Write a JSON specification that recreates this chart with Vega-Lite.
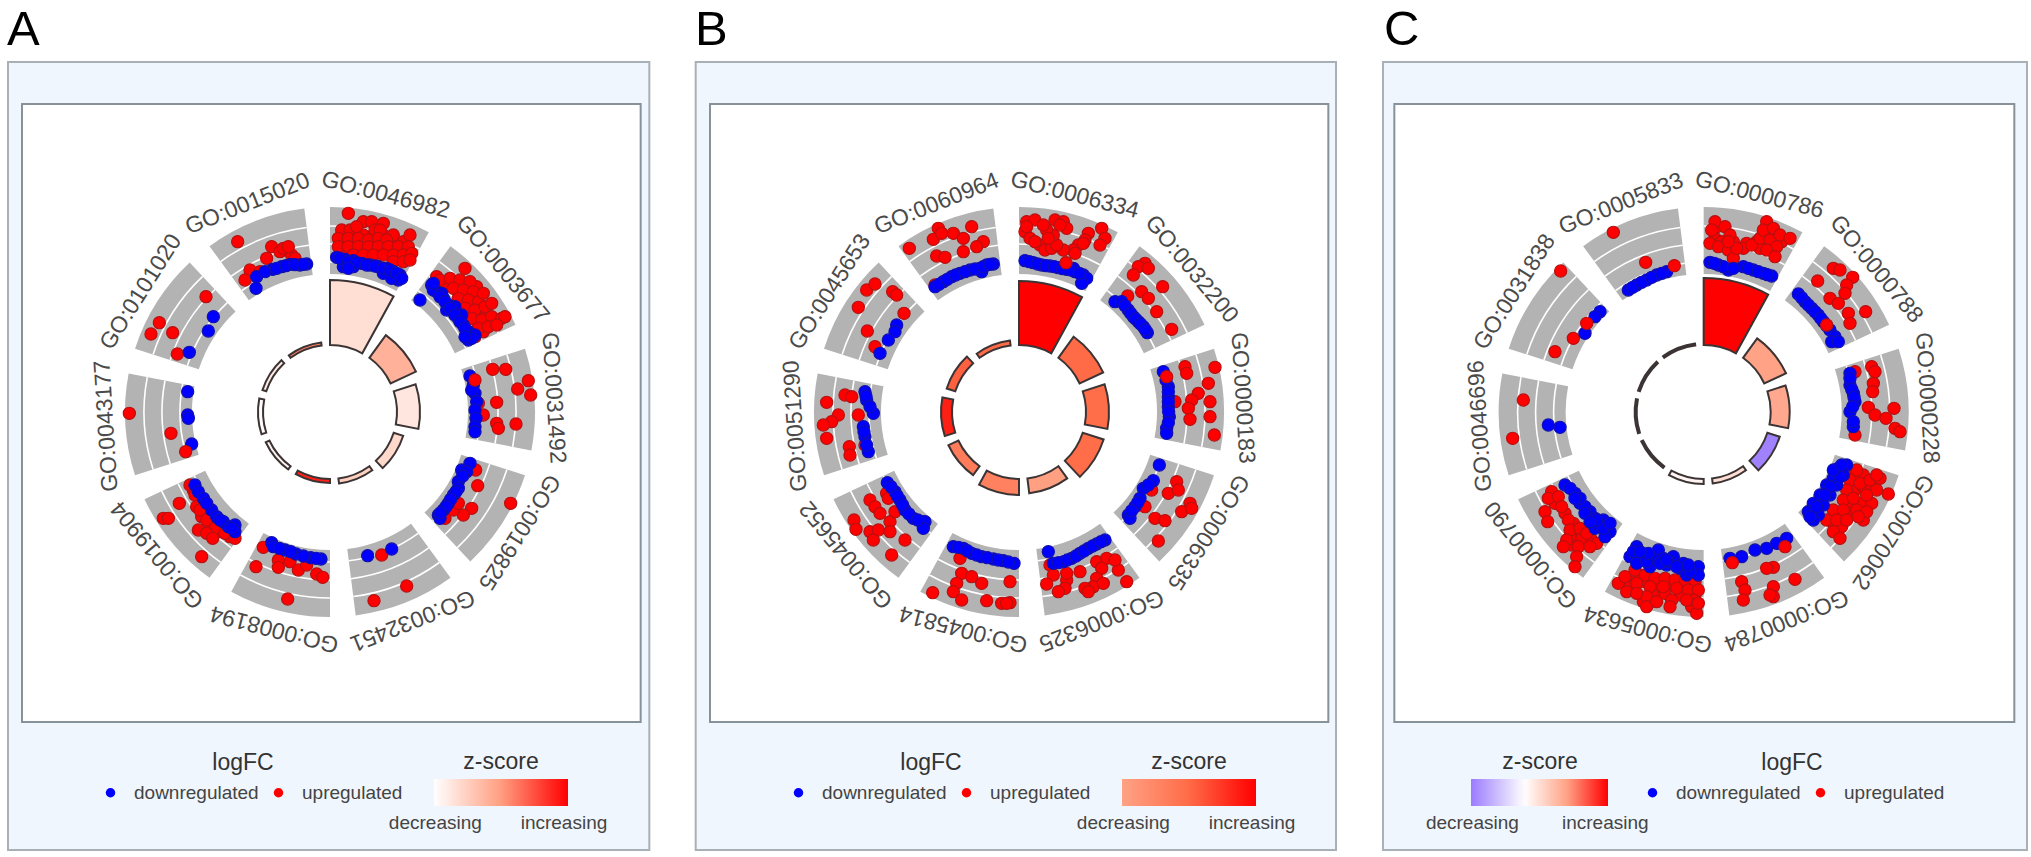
{"$schema":"https://vega.github.io/schema/vega-lite/v6.json","background":"white","padding":0,"spacing":0,"resolve":{"scale":{"color":"independent","fill":"independent","stroke":"independent"},"legend":{"color":"independent","fill":"independent","stroke":"independent"}},"config":{"font":"Liberation Sans","view":{"stroke":null},"legend":{"labelFontSize":19,"labelColor":"#444444","titleFontSize":23,"titleFontWeight":"normal","titleColor":"#333333","padding":0,"symbolType":"circle"}},
"datasets":{
"lines":[{"a0":0,"a1":28.8},{"a0":36,"a1":64.8},{"a0":72,"a1":100.8},{"a0":108,"a1":136.8},{"a0":144,"a1":172.8},{"a0":180,"a1":208.8},{"a0":216,"a1":244.8},{"a0":252,"a1":280.8},{"a0":288,"a1":316.8},{"a0":324,"a1":352.8}],
"aSec":[{"go":"GO:0046982","a0":0,"a1":28.8,"mid":14.4,"bar":132,"z":0.17},{"go":"GO:0003677","a0":36,"a1":64.8,"mid":50.4,"bar":95,"z":0.4},{"go":"GO:0031492","a0":72,"a1":100.8,"mid":86.4,"bar":90,"z":0.13},{"go":"GO:0019825","a0":108,"a1":136.8,"mid":122.4,"bar":77,"z":0.2},{"go":"GO:0032451","a0":144,"a1":172.8,"mid":158.4,"bar":72,"z":0.25},{"go":"GO:0008194","a0":180,"a1":208.8,"mid":194.4,"bar":71,"z":0.9},{"go":"GO:0019904","a0":216,"a1":244.8,"mid":230.4,"bar":71,"z":0.05},{"go":"GO:0043177","a0":252,"a1":280.8,"mid":266.4,"bar":72,"z":0.02},{"go":"GO:0101020","a0":288,"a1":316.8,"mid":302.4,"bar":71,"z":0.1},{"go":"GO:0015020","a0":324,"a1":352.8,"mid":338.4,"bar":70,"z":0.6}],
"bSec":[{"go":"GO:0006334","a0":0,"a1":28.8,"mid":14.4,"bar":131,"z":1},{"go":"GO:0032200","a0":36,"a1":64.8,"mid":50.4,"bar":93,"z":0.5},{"go":"GO:0000183","a0":72,"a1":100.8,"mid":86.4,"bar":90,"z":0.48},{"go":"GO:0006335","a0":108,"a1":136.8,"mid":122.4,"bar":89,"z":0.48},{"go":"GO:0006325","a0":144,"a1":172.8,"mid":158.4,"bar":82,"z":0.02},{"go":"GO:0045814","a0":180,"a1":208.8,"mid":194.4,"bar":83,"z":0.3},{"go":"GO:0045652","a0":216,"a1":244.8,"mid":230.4,"bar":78,"z":0.35},{"go":"GO:0051290","a0":252,"a1":280.8,"mid":266.4,"bar":78,"z":0.85},{"go":"GO:0045653","a0":288,"a1":316.8,"mid":302.4,"bar":76,"z":0.55},{"go":"GO:0060964","a0":324,"a1":352.8,"mid":338.4,"bar":72,"z":0.5}],
"cSec":[{"go":"GO:0000786","a0":0,"a1":28.8,"mid":14.4,"bar":134,"z":1},{"go":"GO:0000788","a0":36,"a1":64.8,"mid":50.4,"bar":91,"z":0.7},{"go":"GO:0000228","a0":72,"a1":100.8,"mid":86.4,"bar":86,"z":0.68},{"go":"GO:0070062","a0":108,"a1":136.8,"mid":122.4,"bar":80,"z":0.02},{"go":"GO:0000784","a0":144,"a1":172.8,"mid":158.4,"bar":72,"z":0.5},{"go":"GO:0005634","a0":180,"a1":208.8,"mid":194.4,"bar":72,"z":0.42},{"go":"GO:0000790","a0":216,"a1":244.8,"mid":230.4,"bar":69,"z":0.39},{"go":"GO:0046696","a0":252,"a1":280.8,"mid":266.4,"bar":69,"z":0.39},{"go":"GO:0031838","a0":288,"a1":316.8,"mid":302.4,"bar":69,"z":0.39},{"go":"GO:0005833","a0":324,"a1":352.8,"mid":338.4,"bar":69,"z":0.39}],
"aPts":[{"x":730,"y":195,"g":"up"},{"x":760,"y":195,"g":"up"},{"x":790,"y":195,"g":"up"},{"x":820,"y":195,"g":"up"},{"x":850,"y":195,"g":"up"},{"x":730,"y":215,"g":"up"},{"x":760,"y":215,"g":"up"},{"x":790,"y":215,"g":"up"},{"x":820,"y":215,"g":"up"},{"x":850,"y":215,"g":"up"},{"x":880,"y":215,"g":"up"},{"x":910,"y":215,"g":"up"},{"x":775,"y":245,"g":"up"},{"x":805,"y":245,"g":"up"},{"x":835,"y":245,"g":"up"},{"x":865,"y":245,"g":"up"},{"x":895,"y":245,"g":"up"},{"x":925,"y":245,"g":"up"},{"x":735,"y":245,"g":"up"},{"x":1035,"y":340,"g":"up"},{"x":1065,"y":340,"g":"up"},{"x":1095,"y":345,"g":"up"},{"x":1080,"y":370,"g":"up"},{"x":1105,"y":365,"g":"up"},{"x":1135,"y":380,"g":"up"},{"x":1090,"y":400,"g":"up"},{"x":1120,"y":405,"g":"up"},{"x":1145,"y":430,"g":"up"},{"x":1110,"y":430,"g":"up"},{"x":1135,"y":460,"g":"up"},{"x":1160,"y":455,"g":"up"},{"x":1150,"y":485,"g":"up"},{"x":1010,"y":320,"g":"up"},{"x":1130,"y":350,"g":"up"},{"x":330,"y":1065,"g":"up"},{"x":360,"y":1085,"g":"up"},{"x":390,"y":1100,"g":"up"},{"x":305,"y":1040,"g":"up"},{"x":280,"y":960,"g":"up"},
{"x":745,"y":130,"g":"up"},{"x":790,"y":155,"g":"up"},{"x":815,"y":155,"g":"up"},{"x":850,"y":160,"g":"up"},{"x":880,"y":195,"g":"up"},{"x":930,"y":195,"g":"up"},{"x":725,"y":180,"g":"up"},{"x":750,"y":180,"g":"up"},{"x":770,"y":170,"g":"up"},{"x":825,"y":180,"g":"up"},{"x":840,"y":180,"g":"up"},{"x":715,"y":205,"g":"up"},{"x":745,"y":205,"g":"up"},{"x":775,"y":205,"g":"up"},{"x":805,"y":210,"g":"up"},{"x":835,"y":205,"g":"up"},{"x":860,"y":210,"g":"up"},{"x":715,"y":230,"g":"up"},{"x":745,"y":230,"g":"up"},{"x":775,"y":230,"g":"up"},{"x":805,"y":230,"g":"up"},{"x":835,"y":230,"g":"up"},{"x":865,"y":230,"g":"up"},{"x":895,"y":230,"g":"up"},{"x":925,"y":230,"g":"up"},{"x":760,"y":255,"g":"up"},{"x":790,"y":255,"g":"up"},{"x":820,"y":255,"g":"up"},{"x":850,"y":255,"g":"up"},{"x":880,"y":255,"g":"up"},{"x":910,"y":255,"g":"up"},{"x":935,"y":250,"g":"up"},{"x":880,"y":275,"g":"up"},{"x":910,"y":275,"g":"up"},{"x":930,"y":270,"g":"up"},{"x":710,"y":262,"g":"down"},{"x":735,"y":268,"g":"down"},{"x":760,"y":272,"g":"down"},{"x":785,"y":280,"g":"down"},{"x":810,"y":285,"g":"down"},{"x":835,"y":290,"g":"down"},{"x":860,"y":295,"g":"down"},{"x":880,"y":305,"g":"down"},{"x":900,"y":315,"g":"down"},{"x":895,"y":330,"g":"down"},{"x":730,"y":290,"g":"down"},{"x":760,"y":290,"g":"down"},{"x":850,"y":310,"g":"down"},{"x":875,"y":325,"g":"down"},
{"x":1020,"y":330,"g":"up"},{"x":1050,"y":325,"g":"up"},{"x":1080,"y":330,"g":"up"},{"x":1095,"y":295,"g":"up"},{"x":1110,"y":335,"g":"up"},{"x":1060,"y":355,"g":"up"},{"x":1090,"y":360,"g":"up"},{"x":1120,"y":365,"g":"up"},{"x":1075,"y":385,"g":"up"},{"x":1105,"y":390,"g":"up"},{"x":1135,"y":395,"g":"up"},{"x":1150,"y":370,"g":"up"},{"x":1095,"y":415,"g":"up"},{"x":1125,"y":420,"g":"up"},{"x":1155,"y":410,"g":"up"},{"x":1175,"y":400,"g":"up"},{"x":1115,"y":445,"g":"up"},{"x":1145,"y":450,"g":"up"},{"x":1175,"y":440,"g":"up"},{"x":1205,"y":445,"g":"up"},{"x":1215,"y":440,"g":"up"},{"x":1135,"y":475,"g":"up"},{"x":1165,"y":470,"g":"up"},{"x":1190,"y":465,"g":"up"},{"x":1125,"y":500,"g":"up"},{"x":960,"y":390,"g":"down"},{"x":995,"y":345,"g":"down"},{"x":1010,"y":365,"g":"down"},{"x":1030,"y":385,"g":"down"},{"x":1045,"y":405,"g":"down"},{"x":1060,"y":425,"g":"down"},{"x":1075,"y":445,"g":"down"},{"x":1090,"y":465,"g":"down"},{"x":1105,"y":485,"g":"down"},{"x":1105,"y":510,"g":"down"},{"x":1125,"y":495,"g":"down"},{"x":1000,"y":360,"g":"down"},{"x":1025,"y":370,"g":"down"},{"x":1040,"y":420,"g":"down"},{"x":1065,"y":410,"g":"down"},{"x":1085,"y":435,"g":"down"},
{"x":1178,"y":598,"g":"up"},{"x":1217,"y":598,"g":"up"},{"x":1285,"y":632,"g":"up"},{"x":1253,"y":657,"g":"up"},{"x":1292,"y":675,"g":"up"},{"x":1190,"y":697,"g":"up"},{"x":1248,"y":762,"g":"up"},{"x":1190,"y":760,"g":"up"},{"x":1195,"y":775,"g":"up"},{"x":1150,"y":735,"g":"up"},{"x":1135,"y":700,"g":"up"},{"x":1110,"y":618,"g":"down"},{"x":1120,"y":645,"g":"down"},{"x":1125,"y":670,"g":"down"},{"x":1130,"y":695,"g":"down"},{"x":1125,"y":720,"g":"down"},{"x":1128,"y":745,"g":"down"},{"x":1125,"y":770,"g":"down"},{"x":1125,"y":785,"g":"down"},{"x":1115,"y":660,"g":"down"},{"x":1125,"y":630,"g":"up"},
{"x":1232,"y":1000,"g":"up"},{"x":1133,"y":947,"g":"up"},{"x":1127,"y":900,"g":"up"},{"x":1115,"y":1015,"g":"up"},{"x":1090,"y":1035,"g":"up"},{"x":1035,"y":1045,"g":"up"},{"x":1060,"y":1020,"g":"up"},{"x":1075,"y":1000,"g":"up"},{"x":1110,"y":880,"g":"down"},{"x":1085,"y":900,"g":"down"},{"x":1100,"y":905,"g":"down"},{"x":1075,"y":935,"g":"down"},{"x":1075,"y":955,"g":"down"},{"x":1060,"y":975,"g":"down"},{"x":1045,"y":1000,"g":"down"},{"x":1030,"y":1020,"g":"down"},{"x":1015,"y":1035,"g":"down"},{"x":1020,"y":1045,"g":"down"},
{"x":845,"y":1155,"g":"up"},{"x":920,"y":1248,"g":"up"},{"x":822,"y":1292,"g":"up"},{"x":803,"y":1157,"g":"down"},{"x":875,"y":1137,"g":"down"},
{"x":490,"y":1132,"g":"up"},{"x":468,"y":1190,"g":"up"},{"x":535,"y":1170,"g":"up"},{"x":535,"y":1192,"g":"up"},{"x":570,"y":1175,"g":"up"},{"x":595,"y":1200,"g":"up"},{"x":620,"y":1185,"g":"up"},{"x":650,"y":1212,"g":"up"},{"x":668,"y":1222,"g":"up"},{"x":563,"y":1287,"g":"up"},{"x":515,"y":1118,"g":"down"},{"x":520,"y":1130,"g":"down"},{"x":555,"y":1140,"g":"down"},{"x":588,"y":1152,"g":"down"},{"x":632,"y":1163,"g":"down"},{"x":663,"y":1167,"g":"down"},
{"x":270,"y":945,"g":"up"},{"x":285,"y":975,"g":"up"},{"x":290,"y":1010,"g":"up"},{"x":300,"y":1020,"g":"up"},{"x":320,"y":1050,"g":"up"},{"x":345,"y":1075,"g":"up"},{"x":375,"y":1090,"g":"up"},{"x":405,"y":1105,"g":"up"},{"x":238,"y":1000,"g":"up"},{"x":190,"y":1045,"g":"up"},{"x":205,"y":1045,"g":"up"},{"x":295,"y":1080,"g":"up"},{"x":320,"y":1090,"g":"up"},{"x":338,"y":1105,"g":"up"},{"x":305,"y":1160,"g":"up"},{"x":285,"y":945,"g":"down"},{"x":295,"y":965,"g":"down"},{"x":310,"y":985,"g":"down"},{"x":335,"y":1020,"g":"down"},{"x":350,"y":1040,"g":"down"},{"x":370,"y":1055,"g":"down"},{"x":385,"y":1070,"g":"down"},{"x":405,"y":1065,"g":"down"},{"x":405,"y":1085,"g":"down"},
{"x":88,"y":730,"g":"up"},{"x":213,"y":790,"g":"up"},{"x":263,"y":665,"g":"down"},{"x":263,"y":735,"g":"down"},{"x":265,"y":745,"g":"down"},{"x":275,"y":822,"g":"down"},{"x":257,"y":845,"g":"up"},
{"x":318,"y":380,"g":"up"},{"x":178,"y":458,"g":"up"},{"x":153,"y":492,"g":"up"},{"x":218,"y":488,"g":"up"},{"x":232,"y":552,"g":"up"},{"x":340,"y":440,"g":"down"},{"x":325,"y":483,"g":"down"},{"x":268,"y":547,"g":"down"},
{"x":413,"y":215,"g":"up"},{"x":515,"y":230,"g":"up"},{"x":500,"y":265,"g":"up"},{"x":560,"y":240,"g":"up"},{"x":575,"y":255,"g":"up"},{"x":540,"y":245,"g":"up"},{"x":450,"y":300,"g":"up"},{"x":480,"y":305,"g":"up"},{"x":435,"y":330,"g":"up"},{"x":550,"y":235,"g":"up"},{"x":565,"y":230,"g":"up"},{"x":585,"y":265,"g":"up"},{"x":620,"y":282,"g":"down"},{"x":600,"y":285,"g":"down"},{"x":572,"y":283,"g":"down"},{"x":545,"y":290,"g":"down"},{"x":518,"y":298,"g":"down"},{"x":470,"y":320,"g":"down"},{"x":468,"y":355,"g":"down"},
{"x":720,"y":265,"g":"down"},{"x":745,"y":275,"g":"down"},{"x":770,"y":278,"g":"down"},{"x":800,"y":285,"g":"down"},{"x":825,"y":288,"g":"down"},{"x":850,"y":295,"g":"down"},{"x":870,"y":300,"g":"down"},{"x":890,"y":310,"g":"down"},{"x":905,"y":325,"g":"down"},{"x":745,"y":295,"g":"down"},{"x":1000,"y":340,"g":"down"},{"x":1020,"y":380,"g":"down"},{"x":1035,"y":395,"g":"down"},{"x":1050,"y":415,"g":"down"},{"x":1065,"y":435,"g":"down"},{"x":1080,"y":455,"g":"down"},{"x":1095,"y":475,"g":"down"},{"x":1115,"y":505,"g":"down"},{"x":1095,"y":500,"g":"down"},{"x":320,"y":1000,"g":"down"},{"x":360,"y":1050,"g":"down"},{"x":395,"y":1075,"g":"down"},{"x":495,"y":305,"g":"down"},{"x":530,"y":295,"g":"down"},{"x":558,"y":287,"g":"down"},{"x":585,"y":284,"g":"down"},{"x":610,"y":283,"g":"down"},{"x":538,"y":1135,"g":"down"},{"x":572,"y":1145,"g":"down"},{"x":610,"y":1158,"g":"down"},{"x":648,"y":1165,"g":"down"},{"x":1088,"y":918,"g":"down"},{"x":1068,"y":965,"g":"down"},{"x":1052,"y":988,"g":"down"},{"x":1038,"y":1010,"g":"down"},{"x":1022,"y":1028,"g":"down"}],
"bPts":[{"x":710,"y":155,"g":"up"},{"x":735,"y":150,"g":"up"},{"x":705,"y":185,"g":"up"},{"x":720,"y":205,"g":"up"},{"x":750,"y":225,"g":"up"},{"x":765,"y":240,"g":"up"},{"x":785,"y":235,"g":"up"},{"x":795,"y":150,"g":"up"},{"x":820,"y":155,"g":"up"},{"x":830,"y":175,"g":"up"},{"x":810,"y":165,"g":"up"},{"x":895,"y":190,"g":"up"},{"x":935,"y":175,"g":"up"},{"x":945,"y":205,"g":"up"},{"x":930,"y":225,"g":"up"},{"x":885,"y":210,"g":"up"},{"x":865,"y":225,"g":"up"},{"x":850,"y":240,"g":"up"},{"x":820,"y":240,"g":"up"},{"x":800,"y":225,"g":"up"},{"x":790,"y":195,"g":"up"},{"x":770,"y":180,"g":"up"},{"x":760,"y":165,"g":"up"},{"x":775,"y":205,"g":"up"},{"x":880,"y":220,"g":"up"},{"x":855,"y":250,"g":"up"},{"x":735,"y":215,"g":"up"},{"x":710,"y":170,"g":"up"},{"x":705,"y":272,"g":"down"},{"x":730,"y":278,"g":"down"},{"x":755,"y":285,"g":"down"},{"x":780,"y":288,"g":"down"},{"x":805,"y":293,"g":"down"},{"x":830,"y":298,"g":"down"},{"x":855,"y":305,"g":"down"},{"x":880,"y":315,"g":"down"},{"x":890,"y":325,"g":"down"},{"x":875,"y":340,"g":"down"},{"x":850,"y":295,"g":"down"},{"x":718,"y":275,"g":"down"},{"x":743,"y":282,"g":"down"},{"x":768,"y":287,"g":"down"},{"x":793,"y":290,"g":"down"},{"x":818,"y":296,"g":"down"},{"x":843,"y":300,"g":"down"},{"x":868,"y":310,"g":"down"},{"x":828,"y":278,"g":"up"},
{"x":1065,"y":280,"g":"up"},{"x":1045,"y":290,"g":"up"},{"x":1030,"y":315,"g":"up"},{"x":1075,"y":295,"g":"up"},{"x":1118,"y":350,"g":"up"},{"x":1055,"y":365,"g":"up"},{"x":1075,"y":385,"g":"up"},{"x":1100,"y":425,"g":"up"},{"x":1145,"y":478,"g":"up"},{"x":1013,"y":378,"g":"up"},{"x":975,"y":395,"g":"down"},{"x":995,"y":395,"g":"down"},{"x":1015,"y":420,"g":"down"},{"x":1030,"y":440,"g":"down"},{"x":1045,"y":455,"g":"down"},{"x":1060,"y":470,"g":"down"},{"x":1072,"y":488,"g":"down"},{"x":1005,"y":407,"g":"down"},{"x":1022,"y":430,"g":"down"},{"x":1037,"y":447,"g":"down"},{"x":1052,"y":462,"g":"down"},{"x":1066,"y":479,"g":"down"},
{"x":1185,"y":590,"g":"up"},{"x":1190,"y":610,"g":"up"},{"x":1275,"y":592,"g":"up"},{"x":1255,"y":640,"g":"up"},{"x":1225,"y":670,"g":"up"},{"x":1205,"y":690,"g":"up"},{"x":1195,"y":715,"g":"up"},{"x":1260,"y":695,"g":"up"},{"x":1155,"y":695,"g":"up"},{"x":1260,"y":740,"g":"up"},{"x":1200,"y":748,"g":"up"},{"x":1273,"y":795,"g":"up"},{"x":1120,"y":605,"g":"down"},{"x":1135,"y":650,"g":"down"},{"x":1135,"y":680,"g":"down"},{"x":1135,"y":710,"g":"down"},{"x":1138,"y":740,"g":"down"},{"x":1130,"y":775,"g":"down"},{"x":1130,"y":790,"g":"down"},{"x":1128,"y":630,"g":"down"},{"x":1135,"y":665,"g":"down"},{"x":1135,"y":695,"g":"down"},{"x":1136,"y":725,"g":"down"},{"x":1135,"y":758,"g":"down"},{"x":1130,"y":620,"g":"up"},
{"x":1160,"y":935,"g":"up"},{"x":1135,"y":970,"g":"up"},{"x":1165,"y":960,"g":"up"},{"x":1200,"y":1000,"g":"up"},{"x":1175,"y":1025,"g":"up"},{"x":1205,"y":1015,"g":"up"},{"x":1065,"y":1010,"g":"up"},{"x":1095,"y":1045,"g":"up"},{"x":1125,"y":1052,"g":"up"},{"x":1105,"y":1113,"g":"up"},{"x":1085,"y":960,"g":"up"},{"x":1108,"y":885,"g":"down"},{"x":1090,"y":932,"g":"down"},{"x":1060,"y":955,"g":"down"},{"x":1050,"y":985,"g":"down"},{"x":1035,"y":1010,"g":"down"},{"x":1015,"y":1035,"g":"down"},{"x":1020,"y":1045,"g":"down"},{"x":1075,"y":945,"g":"down"},{"x":1043,"y":998,"g":"down"},{"x":1025,"y":1022,"g":"down"},
{"x":780,"y":1185,"g":"up"},{"x":790,"y":1215,"g":"up"},{"x":830,"y":1230,"g":"up"},{"x":825,"y":1255,"g":"up"},{"x":805,"y":1265,"g":"up"},{"x":770,"y":1242,"g":"up"},{"x":870,"y":1205,"g":"up"},{"x":920,"y":1175,"g":"up"},{"x":950,"y":1165,"g":"up"},{"x":935,"y":1195,"g":"up"},{"x":985,"y":1200,"g":"up"},{"x":920,"y":1225,"g":"up"},{"x":910,"y":1250,"g":"up"},{"x":885,"y":1255,"g":"up"},{"x":1010,"y":1235,"g":"up"},{"x":940,"y":1240,"g":"up"},{"x":895,"y":1265,"g":"up"},{"x":975,"y":1170,"g":"up"},{"x":830,"y":1210,"g":"up"},{"x":775,"y":1145,"g":"down"},{"x":790,"y":1180,"g":"down"},{"x":820,"y":1175,"g":"down"},{"x":845,"y":1165,"g":"down"},{"x":870,"y":1150,"g":"down"},{"x":895,"y":1135,"g":"down"},{"x":920,"y":1122,"g":"down"},{"x":945,"y":1110,"g":"down"},{"x":805,"y":1178,"g":"down"},{"x":832,"y":1170,"g":"down"},{"x":858,"y":1158,"g":"down"},{"x":882,"y":1143,"g":"down"},{"x":908,"y":1128,"g":"down"},{"x":933,"y":1115,"g":"down"},
{"x":510,"y":1165,"g":"up"},{"x":515,"y":1210,"g":"up"},{"x":545,"y":1220,"g":"up"},{"x":575,"y":1240,"g":"up"},{"x":500,"y":1240,"g":"up"},{"x":490,"y":1265,"g":"up"},{"x":515,"y":1290,"g":"up"},{"x":428,"y":1268,"g":"up"},{"x":660,"y":1235,"g":"up"},{"x":590,"y":1292,"g":"up"},{"x":635,"y":1300,"g":"up"},{"x":660,"y":1298,"g":"up"},{"x":650,"y":1300,"g":"up"},{"x":490,"y":1130,"g":"down"},{"x":520,"y":1135,"g":"down"},{"x":545,"y":1150,"g":"down"},{"x":575,"y":1160,"g":"down"},{"x":610,"y":1167,"g":"down"},{"x":640,"y":1172,"g":"down"},{"x":672,"y":1180,"g":"down"},{"x":505,"y":1132,"g":"down"},{"x":532,"y":1142,"g":"down"},{"x":560,"y":1155,"g":"down"},{"x":592,"y":1163,"g":"down"},{"x":625,"y":1170,"g":"down"},{"x":655,"y":1176,"g":"down"},
{"x":290,"y":970,"g":"up"},{"x":240,"y":990,"g":"up"},{"x":255,"y":1010,"g":"up"},{"x":270,"y":1030,"g":"up"},{"x":192,"y":1050,"g":"up"},{"x":198,"y":1078,"g":"up"},{"x":240,"y":1085,"g":"up"},{"x":265,"y":1080,"g":"up"},{"x":250,"y":1110,"g":"up"},{"x":300,"y":1055,"g":"up"},{"x":300,"y":1085,"g":"up"},{"x":345,"y":1110,"g":"up"},{"x":305,"y":1155,"g":"up"},{"x":315,"y":1025,"g":"up"},{"x":295,"y":985,"g":"up"},{"x":292,"y":938,"g":"down"},{"x":315,"y":965,"g":"down"},{"x":330,"y":990,"g":"down"},{"x":345,"y":1020,"g":"down"},{"x":370,"y":1045,"g":"down"},{"x":395,"y":1055,"g":"down"},{"x":405,"y":1055,"g":"down"},{"x":400,"y":1075,"g":"down"},{"x":303,"y":950,"g":"down"},{"x":322,"y":978,"g":"down"},{"x":338,"y":1005,"g":"down"},{"x":357,"y":1032,"g":"down"},{"x":383,"y":1050,"g":"down"},
{"x":110,"y":697,"g":"up"},{"x":165,"y":675,"g":"up"},{"x":185,"y":680,"g":"up"},{"x":145,"y":735,"g":"up"},{"x":125,"y":755,"g":"up"},{"x":100,"y":765,"g":"up"},{"x":110,"y":805,"g":"up"},{"x":178,"y":830,"g":"up"},{"x":180,"y":855,"g":"up"},{"x":205,"y":735,"g":"up"},{"x":225,"y":825,"g":"up"},{"x":225,"y":665,"g":"down"},{"x":230,"y":690,"g":"down"},{"x":250,"y":730,"g":"down"},{"x":220,"y":770,"g":"down"},{"x":225,"y":800,"g":"down"},{"x":235,"y":845,"g":"down"},{"x":228,"y":678,"g":"down"},{"x":240,"y":710,"g":"down"},{"x":222,"y":785,"g":"down"},{"x":230,"y":825,"g":"down"},
{"x":230,"y":360,"g":"up"},{"x":255,"y":342,"g":"up"},{"x":308,"y":365,"g":"up"},{"x":320,"y":375,"g":"up"},{"x":205,"y":412,"g":"up"},{"x":342,"y":430,"g":"up"},{"x":232,"y":483,"g":"up"},{"x":255,"y":530,"g":"up"},{"x":320,"y":465,"g":"down"},{"x":315,"y":485,"g":"down"},{"x":295,"y":510,"g":"down"},{"x":270,"y":550,"g":"down"},
{"x":445,"y":175,"g":"up"},{"x":490,"y":190,"g":"up"},{"x":430,"y":208,"g":"up"},{"x":520,"y":205,"g":"up"},{"x":545,"y":170,"g":"up"},{"x":580,"y":215,"g":"up"},{"x":560,"y":230,"g":"up"},{"x":358,"y":235,"g":"up"},{"x":520,"y":245,"g":"up"},{"x":440,"y":258,"g":"up"},{"x":465,"y":262,"g":"up"},{"x":455,"y":190,"g":"up"},{"x":435,"y":345,"g":"up"},{"x":435,"y":350,"g":"down"},{"x":460,"y":335,"g":"down"},{"x":485,"y":320,"g":"down"},{"x":510,"y":310,"g":"down"},{"x":540,"y":300,"g":"down"},{"x":570,"y":295,"g":"down"},{"x":590,"y":285,"g":"down"},{"x":610,"y":282,"g":"down"},{"x":575,"y":305,"g":"down"},{"x":447,"y":343,"g":"down"},{"x":472,"y":328,"g":"down"},{"x":497,"y":315,"g":"down"},{"x":525,"y":305,"g":"down"},{"x":555,"y":297,"g":"down"},{"x":580,"y":290,"g":"down"},{"x":600,"y":283,"g":"down"}],
"cPts":[{"x":1125,"y":910,"g":"up"},{"x":1150,"y":915,"g":"up"},{"x":1125,"y":960,"g":"up"},{"x":1150,"y":950,"g":"up"},{"x":1175,"y":955,"g":"up"},{"x":1100,"y":1000,"g":"up"},{"x":1145,"y":1000,"g":"up"},{"x":1175,"y":1000,"g":"up"},{"x":1110,"y":1030,"g":"up"},{"x":1060,"y":1060,"g":"up"},{"x":1085,"y":1070,"g":"up"},{"x":1150,"y":1050,"g":"up"},{"x":450,"y":1235,"g":"up"},{"x":490,"y":1235,"g":"up"},{"x":530,"y":1250,"g":"up"},{"x":570,"y":1240,"g":"up"},{"x":610,"y":1250,"g":"up"},{"x":640,"y":1260,"g":"up"},{"x":480,"y":1215,"g":"up"},{"x":540,"y":1235,"g":"up"},{"x":600,"y":1235,"g":"up"},{"x":450,"y":1250,"g":"up"},{"x":520,"y":1275,"g":"up"},{"x":555,"y":1270,"g":"up"},{"x":600,"y":1275,"g":"up"},{"x":635,"y":1310,"g":"up"},{"x":645,"y":1275,"g":"up"},{"x":510,"y":1295,"g":"up"},{"x":490,"y":1295,"g":"up"},{"x":225,"y":1000,"g":"up"},{"x":255,"y":1030,"g":"up"},{"x":280,"y":1060,"g":"up"},{"x":285,"y":1095,"g":"up"},{"x":305,"y":1105,"g":"up"},{"x":275,"y":1125,"g":"up"},{"x":270,"y":1100,"g":"up"},{"x":335,"y":1110,"g":"up"},{"x":705,"y":205,"g":"up"},{"x":760,"y":215,"g":"up"},{"x":760,"y":245,"g":"up"},{"x":800,"y":220,"g":"up"},{"x":830,"y":215,"g":"up"},{"x":840,"y":235,"g":"up"},{"x":870,"y":185,"g":"up"},{"x":875,"y":240,"g":"up"},{"x":905,"y":215,"g":"up"},{"x":725,"y":215,"g":"up"},{"x":710,"y":170,"g":"up"},
{"x":705,"y":155,"g":"up"},{"x":695,"y":180,"g":"up"},{"x":690,"y":220,"g":"up"},{"x":735,"y":170,"g":"up"},{"x":750,"y":195,"g":"up"},{"x":715,"y":230,"g":"up"},{"x":745,"y":240,"g":"up"},{"x":760,"y":265,"g":"up"},{"x":790,"y":235,"g":"up"},{"x":815,"y":225,"g":"up"},{"x":840,"y":205,"g":"up"},{"x":860,"y":155,"g":"up"},{"x":850,"y":180,"g":"up"},{"x":880,"y":175,"g":"up"},{"x":870,"y":210,"g":"up"},{"x":900,"y":195,"g":"up"},{"x":930,"y":205,"g":"up"},{"x":890,"y":230,"g":"up"},{"x":860,"y":240,"g":"up"},{"x":885,"y":260,"g":"up"},{"x":770,"y":235,"g":"up"},{"x":745,"y":215,"g":"up"},{"x":690,"y":277,"g":"down"},{"x":715,"y":285,"g":"down"},{"x":745,"y":300,"g":"down"},{"x":790,"y":290,"g":"down"},{"x":820,"y":300,"g":"down"},{"x":850,"y":310,"g":"down"},{"x":875,"y":318,"g":"down"},{"x":730,"y":290,"g":"down"},{"x":703,"y":280,"g":"down"},{"x":760,"y":295,"g":"down"},{"x":805,"y":295,"g":"down"},{"x":835,"y":305,"g":"down"},{"x":862,"y":314,"g":"down"},
{"x":1060,"y":295,"g":"up"},{"x":1080,"y":300,"g":"up"},{"x":1013,"y":333,"g":"up"},{"x":1118,"y":322,"g":"up"},{"x":1100,"y":345,"g":"up"},{"x":1095,"y":370,"g":"up"},{"x":1050,"y":385,"g":"up"},{"x":1075,"y":400,"g":"up"},{"x":1105,"y":430,"g":"up"},{"x":1110,"y":460,"g":"up"},{"x":1157,"y":425,"g":"up"},{"x":955,"y":372,"g":"down"},{"x":975,"y":395,"g":"down"},{"x":995,"y":415,"g":"down"},{"x":1015,"y":435,"g":"down"},{"x":1030,"y":455,"g":"down"},{"x":1050,"y":480,"g":"down"},{"x":1065,"y":500,"g":"down"},{"x":1055,"y":515,"g":"down"},{"x":1075,"y":515,"g":"down"},{"x":965,"y":383,"g":"down"},{"x":985,"y":405,"g":"down"},{"x":1005,"y":425,"g":"down"},{"x":1022,"y":445,"g":"down"},{"x":1040,"y":467,"g":"down"},{"x":1040,"y":465,"g":"up"},
{"x":1125,"y":605,"g":"up"},{"x":1175,"y":590,"g":"up"},{"x":1185,"y":605,"g":"up"},{"x":1180,"y":640,"g":"up"},{"x":1178,"y":665,"g":"up"},{"x":1165,"y":712,"g":"up"},{"x":1185,"y":735,"g":"up"},{"x":1218,"y":745,"g":"up"},{"x":1242,"y":715,"g":"up"},{"x":1245,"y":775,"g":"up"},{"x":1260,"y":785,"g":"up"},{"x":1125,"y":795,"g":"up"},{"x":1110,"y":610,"g":"down"},{"x":1110,"y":645,"g":"down"},{"x":1120,"y":670,"g":"down"},{"x":1125,"y":695,"g":"down"},{"x":1110,"y":725,"g":"down"},{"x":1120,"y":770,"g":"down"},{"x":1110,"y":625,"g":"down"},{"x":1115,"y":658,"g":"down"},{"x":1122,"y":682,"g":"down"},{"x":1118,"y":710,"g":"down"},{"x":1120,"y":755,"g":"down"},
{"x":1130,"y":900,"g":"up"},{"x":1110,"y":930,"g":"up"},{"x":1100,"y":960,"g":"up"},{"x":1140,"y":940,"g":"up"},{"x":1170,"y":930,"g":"up"},{"x":1200,"y":925,"g":"up"},{"x":1225,"y":972,"g":"up"},{"x":1190,"y":960,"g":"up"},{"x":1090,"y":990,"g":"up"},{"x":1120,"y":985,"g":"up"},{"x":1160,"y":975,"g":"up"},{"x":1060,"y":1020,"g":"up"},{"x":1090,"y":1020,"g":"up"},{"x":1130,"y":1020,"g":"up"},{"x":1160,"y":1025,"g":"up"},{"x":1040,"y":1050,"g":"up"},{"x":1070,"y":1050,"g":"up"},{"x":1100,"y":1050,"g":"up"},{"x":1135,"y":1040,"g":"up"},{"x":1060,"y":1085,"g":"up"},{"x":1080,"y":1105,"g":"up"},{"x":1190,"y":915,"g":"up"},{"x":1100,"y":885,"g":"down"},{"x":1075,"y":895,"g":"down"},{"x":1060,"y":925,"g":"down"},{"x":1090,"y":915,"g":"down"},{"x":1040,"y":945,"g":"down"},{"x":1070,"y":945,"g":"down"},{"x":1020,"y":975,"g":"down"},{"x":1050,"y":975,"g":"down"},{"x":1000,"y":1000,"g":"down"},{"x":1030,"y":1005,"g":"down"},{"x":985,"y":1025,"g":"down"},{"x":1015,"y":1035,"g":"down"},{"x":1000,"y":1050,"g":"down"},{"x":1050,"y":950,"g":"down"},{"x":1080,"y":920,"g":"down"},{"x":1035,"y":975,"g":"down"},{"x":1010,"y":1010,"g":"down"},{"x":990,"y":1040,"g":"down"},{"x":1060,"y":900,"g":"down"},{"x":1085,"y":885,"g":"down"},
{"x":750,"y":1165,"g":"down"},{"x":785,"y":1160,"g":"down"},{"x":825,"y":1140,"g":"down"},{"x":860,"y":1135,"g":"down"},{"x":890,"y":1120,"g":"down"},{"x":920,"y":1105,"g":"down"},{"x":757,"y":1178,"g":"up"},{"x":915,"y":1130,"g":"up"},{"x":880,"y":1192,"g":"up"},{"x":860,"y":1195,"g":"up"},{"x":945,"y":1228,"g":"up"},{"x":785,"y":1235,"g":"up"},{"x":795,"y":1260,"g":"up"},{"x":790,"y":1290,"g":"up"},{"x":880,"y":1250,"g":"up"},{"x":880,"y":1280,"g":"up"},{"x":870,"y":1275,"g":"up"},
{"x":415,"y":1240,"g":"up"},{"x":440,"y":1265,"g":"up"},{"x":435,"y":1220,"g":"up"},{"x":465,"y":1200,"g":"up"},{"x":495,"y":1215,"g":"up"},{"x":525,"y":1225,"g":"up"},{"x":555,"y":1225,"g":"up"},{"x":585,"y":1230,"g":"up"},{"x":615,"y":1230,"g":"up"},{"x":645,"y":1235,"g":"up"},{"x":470,"y":1240,"g":"up"},{"x":510,"y":1250,"g":"up"},{"x":550,"y":1250,"g":"up"},{"x":590,"y":1255,"g":"up"},{"x":625,"y":1260,"g":"up"},{"x":655,"y":1260,"g":"up"},{"x":500,"y":1280,"g":"up"},{"x":500,"y":1310,"g":"up"},{"x":530,"y":1295,"g":"up"},{"x":575,"y":1290,"g":"up"},{"x":570,"y":1310,"g":"up"},{"x":640,"y":1290,"g":"up"},{"x":650,"y":1330,"g":"up"},{"x":655,"y":1300,"g":"up"},{"x":470,"y":1270,"g":"up"},{"x":620,"y":1290,"g":"up"},{"x":470,"y":1130,"g":"down"},{"x":450,"y":1160,"g":"down"},{"x":490,"y":1160,"g":"down"},{"x":535,"y":1140,"g":"down"},{"x":525,"y":1170,"g":"down"},{"x":560,"y":1185,"g":"down"},{"x":600,"y":1195,"g":"down"},{"x":640,"y":1200,"g":"down"},{"x":655,"y":1190,"g":"down"},{"x":655,"y":1215,"g":"down"},{"x":620,"y":1215,"g":"down"},{"x":470,"y":1180,"g":"down"},{"x":580,"y":1160,"g":"down"},{"x":510,"y":1190,"g":"down"},{"x":550,"y":1165,"g":"down"},{"x":500,"y":1175,"g":"down"},{"x":540,"y":1180,"g":"down"},{"x":570,"y":1175,"g":"down"},{"x":610,"y":1180,"g":"down"},{"x":630,"y":1205,"g":"down"},{"x":590,"y":1190,"g":"down"},{"x":460,"y":1145,"g":"down"},{"x":505,"y":1150,"g":"down"},{"x":480,"y":1145,"g":"down"},{"x":560,"y":1170,"g":"down"},{"x":625,"y":1185,"g":"down"},
{"x":215,"y":965,"g":"up"},{"x":205,"y":985,"g":"up"},{"x":195,"y":1025,"g":"up"},{"x":203,"y":1055,"g":"up"},{"x":235,"y":980,"g":"up"},{"x":245,"y":1010,"g":"up"},{"x":265,"y":1050,"g":"up"},{"x":270,"y":1080,"g":"up"},{"x":300,"y":1075,"g":"up"},{"x":320,"y":1090,"g":"up"},{"x":260,"y":1110,"g":"up"},{"x":250,"y":1130,"g":"up"},{"x":295,"y":1130,"g":"up"},{"x":290,"y":1160,"g":"up"},{"x":285,"y":1190,"g":"up"},{"x":350,"y":1120,"g":"up"},{"x":330,"y":1130,"g":"up"},{"x":255,"y":945,"g":"down"},{"x":285,"y":970,"g":"down"},{"x":300,"y":1000,"g":"down"},{"x":330,"y":1025,"g":"down"},{"x":370,"y":1050,"g":"down"},{"x":345,"y":1075,"g":"down"},{"x":390,"y":1085,"g":"down"},{"x":375,"y":1100,"g":"down"},{"x":315,"y":1010,"g":"down"},{"x":355,"y":1065,"g":"down"},{"x":270,"y":955,"g":"down"},{"x":300,"y":985,"g":"down"},{"x":315,"y":1030,"g":"down"},{"x":345,"y":1045,"g":"down"},{"x":370,"y":1075,"g":"down"},{"x":350,"y":1050,"g":"down"},{"x":390,"y":1060,"g":"down"},{"x":330,"y":1055,"g":"down"},{"x":285,"y":985,"g":"down"},
{"x":130,"y":690,"g":"up"},{"x":98,"y":805,"g":"up"},{"x":205,"y":765,"g":"down"},{"x":240,"y":772,"g":"down"},
{"x":242,"y":303,"g":"up"},{"x":280,"y":505,"g":"up"},{"x":225,"y":545,"g":"up"},{"x":360,"y":425,"g":"down"},{"x":345,"y":440,"g":"down"},{"x":315,"y":490,"g":"down"},{"x":320,"y":460,"g":"up"},
{"x":400,"y":187,"g":"up"},{"x":497,"y":277,"g":"up"},{"x":445,"y":360,"g":"down"},{"x":470,"y":345,"g":"down"},{"x":500,"y":330,"g":"down"},{"x":530,"y":315,"g":"down"},{"x":560,"y":305,"g":"down"},{"x":458,"y":352,"g":"down"},{"x":485,"y":337,"g":"down"},{"x":515,"y":322,"g":"down"},{"x":545,"y":310,"g":"down"},{"x":583,"y":287,"g":"up"}]
},
"hconcat":[
{"width":687,"height":857,"encoding":{"x":{"type":"quantitative","axis":null,"scale":{"domain":[-300,1761],"nice":false,"zero":false}},"y":{"type":"quantitative","axis":null,"scale":{"domain":[-510,2061],"reverse":true,"nice":false,"zero":false}}},
"layer":[
{"data":{"values":[{}]},"mark":{"type":"rect","fill":"#f0f6fd","stroke":"#a9b0b6","strokeWidth":2},"encoding":{"x":{"datum":-276},"x2":{"datum":1648},"y":{"datum":-324},"y2":{"datum":2040}}},
{"data":{"values":[{}]},"mark":{"type":"rect","fill":"white","stroke":"#87929a","strokeWidth":2},"encoding":{"x":{"datum":-234},"x2":{"datum":1622},"y":{"datum":-198},"y2":{"datum":1656}}},
{"data":{"name":"lines"},"mark":{"type":"arc","fill":"#b3b3b3"},"encoding":{"x":{"datum":690},"y":{"datum":726},"theta":{"field":"a0","type":"quantitative","stack":null,"scale":{"domain":[0,360],"range":[0,6.28319]}},"theta2":{"field":"a1"},"radius":{"datum":205,"type":"quantitative","scale":{"domain":[0,300],"range":[0,300]}},"radius2":{"datum":138}}},
{"data":{"name":"lines"},"mark":{"type":"arc","fill":"white"},"encoding":{"x":{"datum":690},"y":{"datum":726},"theta":{"field":"a0","type":"quantitative","stack":null,"scale":{"domain":[0,360],"range":[0,6.28319]}},"theta2":{"field":"a1"},"radius":{"datum":150.8,"type":"quantitative","scale":{"domain":[0,300],"range":[0,300]}},"radius2":{"datum":149.2}}},
{"data":{"name":"lines"},"mark":{"type":"arc","fill":"white"},"encoding":{"x":{"datum":690},"y":{"datum":726},"theta":{"field":"a0","type":"quantitative","stack":null,"scale":{"domain":[0,360],"range":[0,6.28319]}},"theta2":{"field":"a1"},"radius":{"datum":168.8,"type":"quantitative","scale":{"domain":[0,300],"range":[0,300]}},"radius2":{"datum":167.2}}},
{"data":{"name":"lines"},"mark":{"type":"arc","fill":"white"},"encoding":{"x":{"datum":690},"y":{"datum":726},"theta":{"field":"a0","type":"quantitative","stack":null,"scale":{"domain":[0,360],"range":[0,6.28319]}},"theta2":{"field":"a1"},"radius":{"datum":186.8,"type":"quantitative","scale":{"domain":[0,300],"range":[0,300]}},"radius2":{"datum":185.2}}},
{"data":{"name":"aSec"},"mark":{"type":"arc","stroke":"#3c3434","strokeWidth":2},"encoding":{"x":{"datum":690},"y":{"datum":726},"theta":{"field":"a0","type":"quantitative","stack":null,"scale":{"domain":[0,360],"range":[0,6.28319]}},"theta2":{"field":"a1"},"radius":{"field":"bar","type":"quantitative","scale":{"domain":[0,300],"range":[0,300]}},"radius2":{"datum":67},"fill":{"field":"z","type":"quantitative","scale":{"domain":[0,0.5,1],"range":["#ffffff","#ff9e80","#ff0000"],"interpolate":"rgb"},"legend":{"title":"z-score","orient":"none","legendX":434,"legendY":751,"direction":"horizontal","gradientLength":134,"gradientThickness":27,"values":[0.01,0.97],"labelExpr":"datum.value<0.5?'decreasing':'increasing'","titleAnchor":"middle","labelAlign":"center","labelOffset":8,"gradientStrokeWidth":0}}}},
{"data":{"name":"aPts"},"mark":{"type":"circle","size":148,"strokeWidth":1.2,"opacity":1},"encoding":{"x":{"field":"x"},"y":{"field":"y"},"color":{"field":"g","type":"nominal","scale":{"domain":["down","up"],"range":["#0000ff","#ff0000"]},"legend":{"title":null,"orient":"none","legendX":101,"legendY":783,"direction":"horizontal","columns":2,"symbolSize":90,"labelOffset":14,"columnPadding":10,"labelExpr":"datum.label=='up'?'upregulated':'downregulated'","symbolStrokeWidth":0}},"stroke":{"field":"g","type":"nominal","scale":{"domain":["down","up"],"range":["#1010b0","#b81010"]},"legend":null}}},
{"data":{"name":"aSec"},"mark":{"type":"text","fontSize":23,"color":"#4a4a4a","align":"center","baseline":"middle"},"encoding":{"x":{"datum":690},"y":{"datum":726},"theta":{"field":"mid","type":"quantitative","stack":null,"scale":{"domain":[0,360],"range":[0,6.28319]}},"radius":{"datum":224,"type":"quantitative","scale":{"domain":[0,300],"range":[0,300]}},"angle":{"field":"mid","type":"quantitative","scale":{"domain":[0,360],"range":[0,360]}},"text":{"field":"go"}}},
{"data":{"values":[{}]},"mark":{"type":"text","text":"logFC","fontSize":23,"color":"#333333","align":"center","baseline":"middle"},"encoding":{"x":{"datum":429},"y":{"datum":1779}}},
{"data":{"values":[{}]},"mark":{"type":"text","text":"A","fontSize":49,"color":"#000000","align":"left","baseline":"alphabetic"},"encoding":{"x":{"datum":-279},"y":{"datum":-375}}}
]},
{"width":687,"height":857,"encoding":{"x":{"type":"quantitative","axis":null,"scale":{"domain":[-309,1752],"nice":false,"zero":false}},"y":{"type":"quantitative","axis":null,"scale":{"domain":[-510,2061],"reverse":true,"nice":false,"zero":false}}},
"layer":[
{"data":{"values":[{}]},"mark":{"type":"rect","fill":"#f0f6fd","stroke":"#a9b0b6","strokeWidth":2},"encoding":{"x":{"datum":-283},"x2":{"datum":1638},"y":{"datum":-324},"y2":{"datum":2040}}},
{"data":{"values":[{}]},"mark":{"type":"rect","fill":"white","stroke":"#87929a","strokeWidth":2},"encoding":{"x":{"datum":-240},"x2":{"datum":1615},"y":{"datum":-198},"y2":{"datum":1656}}},
{"data":{"name":"lines"},"mark":{"type":"arc","fill":"#b3b3b3"},"encoding":{"x":{"datum":687},"y":{"datum":726},"theta":{"field":"a0","type":"quantitative","stack":null,"scale":{"domain":[0,360],"range":[0,6.28319]}},"theta2":{"field":"a1"},"radius":{"datum":205,"type":"quantitative","scale":{"domain":[0,300],"range":[0,300]}},"radius2":{"datum":138}}},
{"data":{"name":"lines"},"mark":{"type":"arc","fill":"white"},"encoding":{"x":{"datum":687},"y":{"datum":726},"theta":{"field":"a0","type":"quantitative","stack":null,"scale":{"domain":[0,360],"range":[0,6.28319]}},"theta2":{"field":"a1"},"radius":{"datum":150.8,"type":"quantitative","scale":{"domain":[0,300],"range":[0,300]}},"radius2":{"datum":149.2}}},
{"data":{"name":"lines"},"mark":{"type":"arc","fill":"white"},"encoding":{"x":{"datum":687},"y":{"datum":726},"theta":{"field":"a0","type":"quantitative","stack":null,"scale":{"domain":[0,360],"range":[0,6.28319]}},"theta2":{"field":"a1"},"radius":{"datum":168.8,"type":"quantitative","scale":{"domain":[0,300],"range":[0,300]}},"radius2":{"datum":167.2}}},
{"data":{"name":"lines"},"mark":{"type":"arc","fill":"white"},"encoding":{"x":{"datum":687},"y":{"datum":726},"theta":{"field":"a0","type":"quantitative","stack":null,"scale":{"domain":[0,360],"range":[0,6.28319]}},"theta2":{"field":"a1"},"radius":{"datum":186.8,"type":"quantitative","scale":{"domain":[0,300],"range":[0,300]}},"radius2":{"datum":185.2}}},
{"data":{"name":"bSec"},"mark":{"type":"arc","stroke":"#3c3434","strokeWidth":2},"encoding":{"x":{"datum":687},"y":{"datum":726},"theta":{"field":"a0","type":"quantitative","stack":null,"scale":{"domain":[0,360],"range":[0,6.28319]}},"theta2":{"field":"a1"},"radius":{"field":"bar","type":"quantitative","scale":{"domain":[0,300],"range":[0,300]}},"radius2":{"datum":67},"fill":{"field":"z","type":"quantitative","scale":{"domain":[0,0.5,1],"range":["#ffa285","#ff6b47","#ff0000"],"interpolate":"rgb"},"legend":{"title":"z-score","orient":"none","legendX":435,"legendY":751,"direction":"horizontal","gradientLength":134,"gradientThickness":27,"values":[0.01,0.97],"labelExpr":"datum.value<0.5?'decreasing':'increasing'","titleAnchor":"middle","labelAlign":"center","labelOffset":8,"gradientStrokeWidth":0}}}},
{"data":{"name":"bPts"},"mark":{"type":"circle","size":148,"strokeWidth":1.2,"opacity":1},"encoding":{"x":{"field":"x"},"y":{"field":"y"},"color":{"field":"g","type":"nominal","scale":{"domain":["down","up"],"range":["#0000ff","#ff0000"]},"legend":{"title":null,"orient":"none","legendX":102,"legendY":783,"direction":"horizontal","columns":2,"symbolSize":90,"labelOffset":14,"columnPadding":10,"labelExpr":"datum.label=='up'?'upregulated':'downregulated'","symbolStrokeWidth":0}},"stroke":{"field":"g","type":"nominal","scale":{"domain":["down","up"],"range":["#1010b0","#b81010"]},"legend":null}}},
{"data":{"name":"bSec"},"mark":{"type":"text","fontSize":23,"color":"#4a4a4a","align":"center","baseline":"middle"},"encoding":{"x":{"datum":687},"y":{"datum":726},"theta":{"field":"mid","type":"quantitative","stack":null,"scale":{"domain":[0,360],"range":[0,6.28319]}},"radius":{"datum":224,"type":"quantitative","scale":{"domain":[0,300],"range":[0,300]}},"angle":{"field":"mid","type":"quantitative","scale":{"domain":[0,360],"range":[0,360]}},"text":{"field":"go"}}},
{"data":{"values":[{}]},"mark":{"type":"text","text":"logFC","fontSize":23,"color":"#333333","align":"center","baseline":"middle"},"encoding":{"x":{"datum":423},"y":{"datum":1779}}},
{"data":{"values":[{}]},"mark":{"type":"text","text":"B","fontSize":49,"color":"#000000","align":"left","baseline":"alphabetic"},"encoding":{"x":{"datum":-285},"y":{"datum":-375}}}
]},
{"width":657,"height":857,"encoding":{"x":{"type":"quantitative","axis":null,"scale":{"domain":[-318,1653],"nice":false,"zero":false}},"y":{"type":"quantitative","axis":null,"scale":{"domain":[-510,2061],"reverse":true,"nice":false,"zero":false}}},
"layer":[
{"data":{"values":[{}]},"mark":{"type":"rect","fill":"#f0f6fd","stroke":"#a9b0b6","strokeWidth":2},"encoding":{"x":{"datum":-291},"x2":{"datum":1641},"y":{"datum":-324},"y2":{"datum":2040}}},
{"data":{"values":[{}]},"mark":{"type":"rect","fill":"white","stroke":"#87929a","strokeWidth":2},"encoding":{"x":{"datum":-257},"x2":{"datum":1603},"y":{"datum":-198},"y2":{"datum":1656}}},
{"data":{"name":"lines"},"mark":{"type":"arc","fill":"#b3b3b3"},"encoding":{"x":{"datum":671},"y":{"datum":726},"theta":{"field":"a0","type":"quantitative","stack":null,"scale":{"domain":[0,360],"range":[0,6.28319]}},"theta2":{"field":"a1"},"radius":{"datum":205,"type":"quantitative","scale":{"domain":[0,300],"range":[0,300]}},"radius2":{"datum":138}}},
{"data":{"name":"lines"},"mark":{"type":"arc","fill":"white"},"encoding":{"x":{"datum":671},"y":{"datum":726},"theta":{"field":"a0","type":"quantitative","stack":null,"scale":{"domain":[0,360],"range":[0,6.28319]}},"theta2":{"field":"a1"},"radius":{"datum":150.8,"type":"quantitative","scale":{"domain":[0,300],"range":[0,300]}},"radius2":{"datum":149.2}}},
{"data":{"name":"lines"},"mark":{"type":"arc","fill":"white"},"encoding":{"x":{"datum":671},"y":{"datum":726},"theta":{"field":"a0","type":"quantitative","stack":null,"scale":{"domain":[0,360],"range":[0,6.28319]}},"theta2":{"field":"a1"},"radius":{"datum":168.8,"type":"quantitative","scale":{"domain":[0,300],"range":[0,300]}},"radius2":{"datum":167.2}}},
{"data":{"name":"lines"},"mark":{"type":"arc","fill":"white"},"encoding":{"x":{"datum":671},"y":{"datum":726},"theta":{"field":"a0","type":"quantitative","stack":null,"scale":{"domain":[0,360],"range":[0,6.28319]}},"theta2":{"field":"a1"},"radius":{"datum":186.8,"type":"quantitative","scale":{"domain":[0,300],"range":[0,300]}},"radius2":{"datum":185.2}}},
{"data":{"name":"cSec"},"mark":{"type":"arc","stroke":"#3c3434","strokeWidth":2},"encoding":{"x":{"datum":671},"y":{"datum":726},"theta":{"field":"a0","type":"quantitative","stack":null,"scale":{"domain":[0,360],"range":[0,6.28319]}},"theta2":{"field":"a1"},"radius":{"field":"bar","type":"quantitative","scale":{"domain":[0,300],"range":[0,300]}},"radius2":{"datum":67},"fill":{"field":"z","type":"quantitative","scale":{"domain":[0,0.39,0.7,1],"range":["#9b7bff","#ffffff","#ffa285","#ff0000"],"interpolate":"rgb"},"legend":{"title":"z-score","orient":"none","legendX":97,"legendY":751,"direction":"horizontal","gradientLength":137,"gradientThickness":27,"values":[0.01,0.98],"labelExpr":"datum.value<0.5?'decreasing':'increasing'","titleAnchor":"middle","labelAlign":"center","labelOffset":8,"gradientStrokeWidth":0}}}},
{"data":{"name":"cPts"},"mark":{"type":"circle","size":148,"strokeWidth":1.2,"opacity":1},"encoding":{"x":{"field":"x"},"y":{"field":"y"},"color":{"field":"g","type":"nominal","scale":{"domain":["down","up"],"range":["#0000ff","#ff0000"]},"legend":{"title":null,"orient":"none","legendX":269,"legendY":783,"direction":"horizontal","columns":2,"symbolSize":90,"labelOffset":14,"columnPadding":10,"labelExpr":"datum.label=='up'?'upregulated':'downregulated'","symbolStrokeWidth":0}},"stroke":{"field":"g","type":"nominal","scale":{"domain":["down","up"],"range":["#1010b0","#b81010"]},"legend":null}}},
{"data":{"name":"cSec"},"mark":{"type":"text","fontSize":23,"color":"#4a4a4a","align":"center","baseline":"middle"},"encoding":{"x":{"datum":671},"y":{"datum":726},"theta":{"field":"mid","type":"quantitative","stack":null,"scale":{"domain":[0,360],"range":[0,6.28319]}},"radius":{"datum":224,"type":"quantitative","scale":{"domain":[0,300],"range":[0,300]}},"angle":{"field":"mid","type":"quantitative","scale":{"domain":[0,360],"range":[0,360]}},"text":{"field":"go"}}},
{"data":{"values":[{}]},"mark":{"type":"text","text":"logFC","fontSize":23,"color":"#333333","align":"center","baseline":"middle"},"encoding":{"x":{"datum":936},"y":{"datum":1779}}},
{"data":{"values":[{}]},"mark":{"type":"text","text":"C","fontSize":49,"color":"#000000","align":"left","baseline":"alphabetic"},"encoding":{"x":{"datum":-288},"y":{"datum":-375}}}
]}
]}
